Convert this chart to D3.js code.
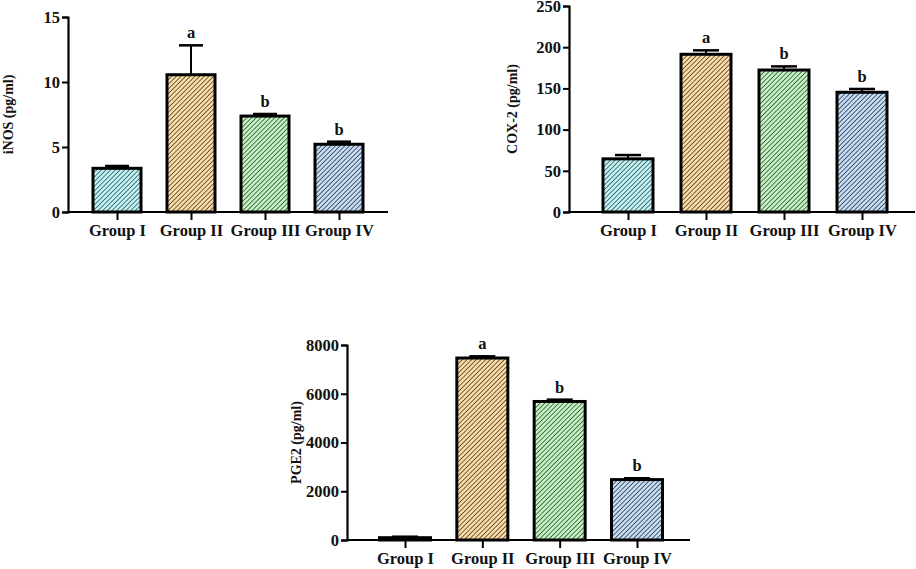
<!DOCTYPE html>
<html><head><meta charset="utf-8">
<script src="https://cdn.jsdelivr.net/npm/d3@7"></script>
<style>body{margin:0;background:#fff}svg{display:block}text{font-family:"Liberation Serif","Times New Roman",serif;font-weight:bold;fill:#111}</style>
</head><body>
<svg id="c" width="916" height="569"></svg>
<script>
const groups = ["Group I", "Group II", "Group III", "Group IV"];
const inosMean = [3.36, 10.56, 7.38, 5.21];
const inosErr = [0.18, 2.26, 0.16, 0.2];
const inosSig = ["", "a", "b", "b"];
const inosTicks = [0, 5, 10, 15];
const coxMean = [64.5, 191.4, 172.3, 145.3];
const coxErr = [4.6, 4.8, 4.4, 4.0];
const coxSig = ["", "a", "b", "b"];
const coxTicks = [0, 50, 100, 150, 200, 250];
const pgeMean = [95, 7466, 5683, 2478];
const pgeErr = [40, 70, 75, 55];
const pgeSig = ["", "a", "b", "b"];
const pgeTicks = [0, 2000, 4000, 6000, 8000];
const fills = ["#c4f1f2", "#f8dcaa", "#c6f0c6", "#cadcf0"];
const hatch = ["#2d5c60", "#5c4420", "#2f5e30", "#2c4060"];

const svg = d3.select("#c");
const defs = svg.append("defs");
const S = 3.3;
fills.forEach((f, i) => {
  const p = defs.append("pattern").attr("id", "h" + i).attr("patternUnits", "userSpaceOnUse")
    .attr("width", S).attr("height", S).attr("patternTransform", "rotate(45)");
  p.append("rect").attr("width", S).attr("height", S).attr("fill", f);
  p.append("line").attr("x1", 0).attr("y1", 0).attr("x2", 0).attr("y2", S)
    .attr("stroke", hatch[i]).attr("stroke-width", 1.6);
});

const FS = 16.5;
function chart(cfg) {
  const g = svg.append("g");
  const y = d3.scaleLinear().domain([0, cfg.ticks[cfg.ticks.length - 1]]).range([cfg.y0, cfg.y1]);
  const x = d3.scalePoint().domain(groups).range([cfg.c0, cfg.c3]);
  const bw = cfg.bw;
  g.selectAll("rect.bar").data(cfg.mean).join("rect")
    .attr("x", (d, i) => x(groups[i]) - bw / 2).attr("width", bw)
    .attr("y", d => y(d)).attr("height", d => cfg.y0 - y(d))
    .attr("fill", (d, i) => `url(#h${i})`).attr("stroke", "#000").attr("stroke-width", 3);
  cfg.mean.forEach((m, i) => {
    const cx = x(groups[i]);
    const top = y(m + cfg.err[i]);
    g.append("line").attr("x1", cx).attr("x2", cx).attr("y1", y(m)).attr("y2", top)
      .attr("stroke", "#000").attr("stroke-width", 2);
    g.append("line").attr("x1", cx - cfg.cap / 2).attr("x2", cx + cfg.cap / 2).attr("y1", top).attr("y2", top)
      .attr("stroke", "#000").attr("stroke-width", 2.5);
    if (cfg.sig[i]) g.append("text").attr("x", cx).attr("y", top - 7).attr("text-anchor", "middle")
      .attr("font-size", FS).text(cfg.sig[i]);
  });
  const ya = g.append("g").attr("transform", `translate(${cfg.ax},0)`)
    .call(d3.axisLeft(y).tickValues(cfg.ticks).tickFormat(d3.format("d")).tickSizeOuter(0).tickSize(6).tickPadding(2));
  ya.select(".domain").attr("stroke-width", 2.2).attr("stroke", "#000");
  ya.selectAll(".tick line").attr("stroke-width", 2).attr("stroke", "#000");
  ya.selectAll(".tick text").attr("font-size", FS).attr("font-family", "Liberation Serif").attr("font-weight", "bold").attr("fill", "#111");
  const xa = g.append("g").attr("transform", `translate(0,${cfg.y0})`)
    .call(d3.axisBottom(x).tickSize(8).tickPadding(4));
  xa.select(".domain").remove();
  g.append("line").attr("x1", cfg.ax - 1).attr("x2", cfg.xEnd).attr("y1", cfg.y0).attr("y2", cfg.y0)
    .attr("stroke", "#000").attr("stroke-width", 2.2);
  xa.selectAll(".tick line").attr("stroke-width", 2).attr("stroke", "#000");
  xa.selectAll(".tick text").attr("font-size", FS).attr("font-family", "Liberation Serif").attr("font-weight", "bold").attr("fill", "#111");
  g.append("text").attr("transform", `translate(${cfg.lx},${(cfg.y0 + cfg.y1) / 2}) rotate(-90)`)
    .attr("text-anchor", "middle").attr("font-size", 14).text(cfg.label);
}

chart({mean: inosMean, err: inosErr, sig: inosSig, ticks: inosTicks, y0: 212, y1: 17, ax: 68, xEnd: 388,
  c0: 117, c3: 339, bw: 48, cap: 24, lx: 13, label: "iNOS (pg/ml)"});
chart({mean: coxMean, err: coxErr, sig: coxSig, ticks: coxTicks, y0: 212, y1: 6, ax: 569, xEnd: 915,
  c0: 628, c3: 862, bw: 50, cap: 26, lx: 517, label: "COX-2 (pg/ml)"});
chart({mean: pgeMean, err: pgeErr, sig: pgeSig, ticks: pgeTicks, y0: 540, y1: 345, ax: 347, xEnd: 690,
  c0: 405, c3: 637, bw: 51, cap: 26, lx: 301, label: "PGE2 (pg/ml)"});
</script>
</body></html>
